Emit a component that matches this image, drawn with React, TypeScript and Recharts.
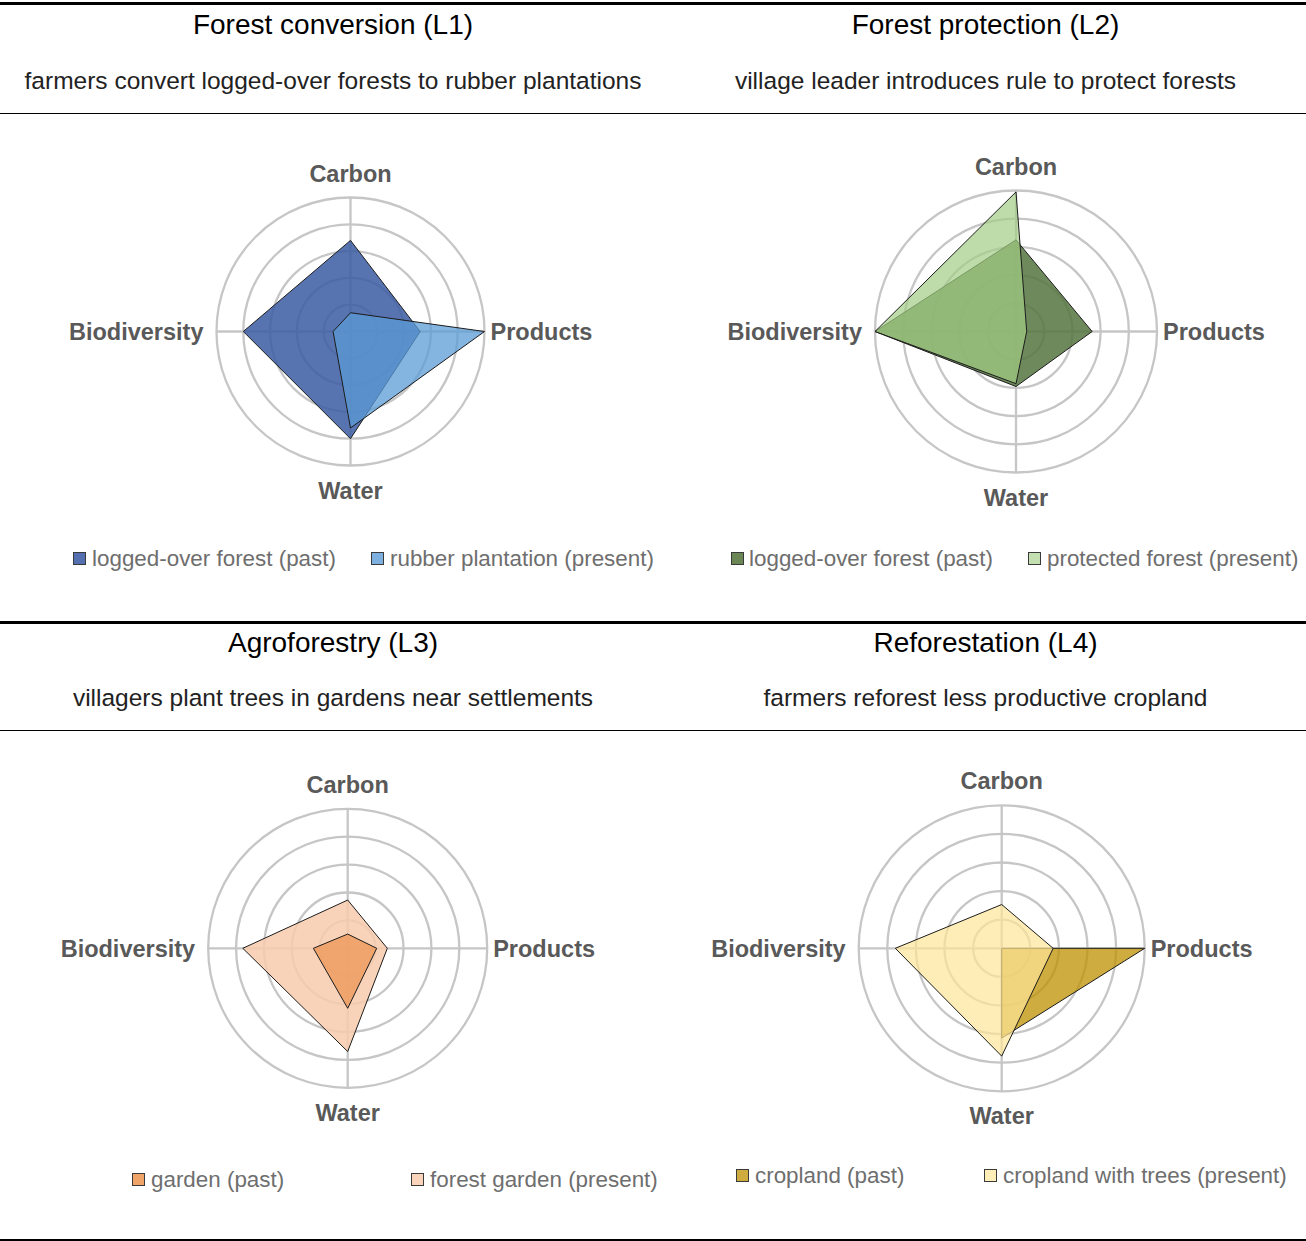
import React from 'react';
import { RadarChart, Radar, PolarGrid, PolarAngleAxis, PolarRadiusAxis } from 'recharts';

const axes = ['Carbon', 'Products', 'Water', 'Biodiversity'];

const l1Past = [3.4, 2.6, 4.0, 4.0];
const l1Present = [0.7, 5.0, 3.6, 0.65];
const l2Past = [3.25, 2.7, 1.95, 5.0];
const l2Present = [4.95, 0.38, 1.85, 5.0];
const l3Past = [0.51, 1.04, 2.15, 1.23];
const l3Present = [1.73, 1.42, 3.7, 3.76];
const l4Past = [0, 5.0, 3.14, 0];
const l4Present = [1.53, 1.8, 3.77, 3.72];

const titles = ['Forest conversion (L1)', 'Forest protection (L2)', 'Agroforestry (L3)', 'Reforestation (L4)'];
const subtitles = [
  'farmers convert logged-over forests to rubber plantations',
  'village leader introduces rule to protect forests',
  'villagers plant trees in gardens near settlements',
  'farmers reforest less productive cropland',
];
const pastNames = ['logged-over forest (past)', 'logged-over forest (past)', 'garden (past)', 'cropland (past)'];
const presentNames = ['rubber plantation (present)', 'protected forest (present)', 'forest garden (present)', 'cropland with trees (present)'];

const FONT = '"Liberation Sans", Arial, sans-serif';

const build = (past: number[], present: number[]) =>
  axes.map((a, i) => ({ axis: a, past: past[i], present: present[i] }));

type Cfg = {
  data: { axis: string; past: number; present: number }[];
  left: number; top: number; cx: number; cy: number; r: number;
  pastFill: string; pastOp: number; presFill: string; presOp: number;
  pastSwatch: string; presSwatch: string;
  presentFirst?: boolean;
  titleX: number; titleY: number; subY: number;
  legY: number; leg: [number, number, number, number];
  idx: number;
};

const AxisTick = (props: any) => {
  const { x, y, payload } = props;
  const v = payload.value;
  let tx = x, ty = y, anchor: any = 'middle';
  if (v === 'Carbon') { ty = y - 8; }
  else if (v === 'Water') { ty = y + 25; }
  else if (v === 'Products') { tx = x - 2; ty = y + 8.5; anchor = 'start'; }
  else { tx = x - 5; ty = y + 8.5; anchor = 'end'; }
  return (
    <text x={tx} y={ty} textAnchor={anchor} fill="#595959" fontSize={23.5} fontWeight="bold" fontFamily={FONT}>
      {v}
    </text>
  );
};

const Panel = ({ c }: { c: Cfg }) => {
  const pastR = (
    <Radar key="past" name={pastNames[c.idx]} dataKey="past" fill={c.pastFill} fillOpacity={c.pastOp}
      stroke="#1c1c1c" strokeWidth={1} dot={false} isAnimationActive={false} />
  );
  const presR = (
    <Radar key="present" name={presentNames[c.idx]} dataKey="present" fill={c.presFill} fillOpacity={c.presOp}
      stroke="#1c1c1c" strokeWidth={1} dot={false} isAnimationActive={false} />
  );
  return (
    <>
      <div style={{ position: 'absolute', left: c.titleX - 320, width: 640, top: c.titleY - 17, textAlign: 'center', fontSize: 28, lineHeight: '34px', color: '#000', fontFamily: FONT }}>
        {titles[c.idx]}
      </div>
      <div style={{ position: 'absolute', left: c.titleX - 320, width: 640, top: c.subY - 14, textAlign: 'center', fontSize: 24.5, lineHeight: '28px', color: '#222', fontFamily: FONT }}>
        {subtitles[c.idx]}
      </div>
      <div style={{ position: 'absolute', left: c.left, top: c.top }}>
        <RadarChart width={653} height={506} data={c.data} cx={c.cx} cy={c.cy} outerRadius={c.r} innerRadius={0}
          startAngle={90} endAngle={-270} margin={{ top: 0, right: 0, bottom: 0, left: 0 }}>
          <PolarGrid gridType="circle" stroke="#C6C6C6" strokeWidth={2.3} />
          <PolarRadiusAxis domain={[0, 5]} tickCount={6} tick={false} axisLine={false} />
          <PolarAngleAxis dataKey="axis" tick={<AxisTick />} tickLine={false} axisLine={false} />
          {c.presentFirst ? [presR, pastR] : [pastR, presR]}
        </RadarChart>
      </div>
      {[0, 1].map((k) => (
        <React.Fragment key={k}>
          <div style={{ position: 'absolute', left: c.leg[k * 2], top: c.legY - 7, width: 11, height: 11, border: '1px solid #3a3a3a', background: k === 0 ? c.pastSwatch : c.presSwatch }} />
          <div style={{ position: 'absolute', left: c.leg[k * 2 + 1], top: c.legY - 13, fontSize: 22.4, lineHeight: '26px', color: '#6e6e6e', fontFamily: FONT, whiteSpace: 'nowrap' }}>
            {k === 0 ? pastNames[c.idx] : presentNames[c.idx]}
          </div>
        </React.Fragment>
      ))}
    </>
  );
};

const cfgs: Cfg[] = [
  {
    idx: 0, data: build(l1Past, l1Present), left: 0, top: 114, cx: 350.5, cy: 217.5, r: 134,
    pastFill: '#3A5AA2', pastOp: 0.85, presFill: '#5B9BD5', presOp: 0.75,
    pastSwatch: '#5570B0', presSwatch: '#7EB0DF',
    titleX: 333, titleY: 25, subY: 81, legY: 559, leg: [73, 92, 371, 390],
  },
  {
    idx: 1, data: build(l2Past, l2Present), left: 653, top: 114, cx: 363, cy: 217.5, r: 141,
    pastFill: '#55753F', pastOp: 0.85, presFill: '#A2CD85', presOp: 0.7,
    pastSwatch: '#6B8756', presSwatch: '#C4E0B0',
    titleX: 985.5, titleY: 25, subY: 81, legY: 559, leg: [731, 749, 1028, 1047],
  },
  {
    idx: 2, data: build(l3Past, l3Present), left: 0, top: 731, cx: 347.7, cy: 217.3, r: 139.5,
    pastFill: '#EE9C60', pastOp: 0.85, presFill: '#F8CBAD', presOp: 0.85,
    pastSwatch: '#F0A468', presSwatch: '#F9D4BB', presentFirst: true,
    titleX: 333, titleY: 643, subY: 698, legY: 1180, leg: [132, 151, 411, 430],
  },
  {
    idx: 3, data: build(l4Past, l4Present), left: 653, top: 731, cx: 348.7, cy: 217.3, r: 143,
    pastFill: '#BF9000', pastOp: 0.75, presFill: '#FFE699', presOp: 0.7,
    pastSwatch: '#CFAC40', presSwatch: '#FFEEB8',
    titleX: 985.5, titleY: 643, subY: 698, legY: 1176, leg: [736, 755, 984, 1003],
  },
];

const hLines: [number, number][] = [[2, 2.5], [113, 1.3], [621, 2.5], [729.5, 1.3], [1238.5, 2.5]];

export default function App() {
  return (
    <div style={{ position: 'absolute', left: 0, top: 0, width: 1306, height: 1241, background: '#fff', overflow: 'hidden', fontFamily: FONT }}>
      {hLines.map(([y, h], i) => (
        <div key={i} style={{ position: 'absolute', left: 0, width: 1306, top: y, height: h, background: '#000' }} />
      ))}
      {cfgs.map((c) => <Panel key={c.idx} c={c} />)}
    </div>
  );
}
